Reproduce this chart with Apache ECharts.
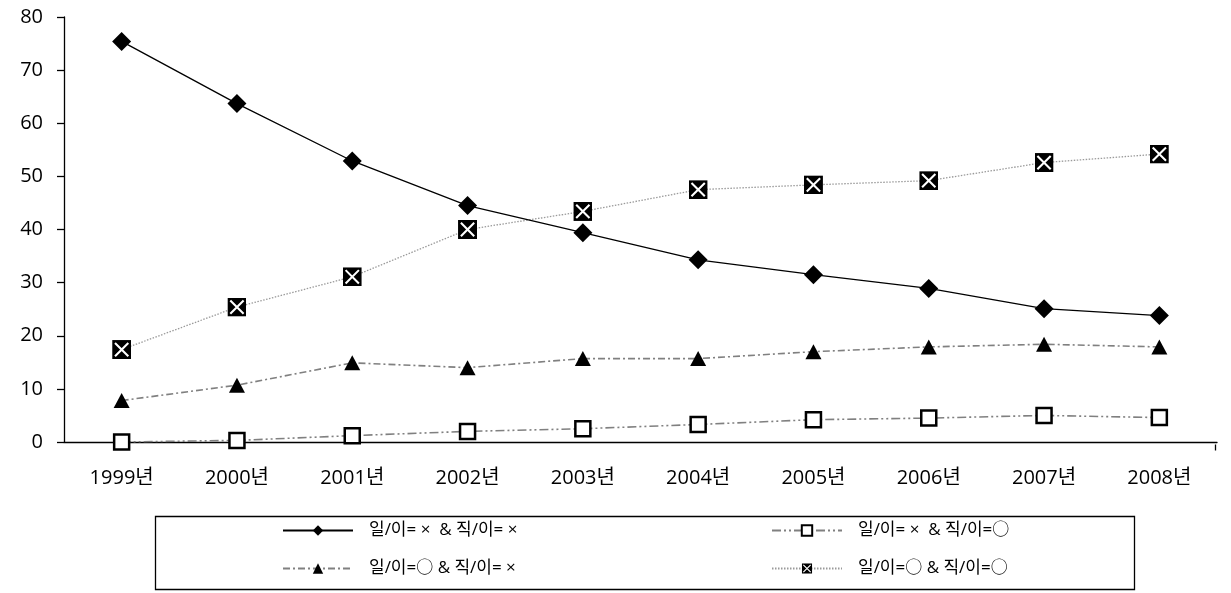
<!DOCTYPE html>
<html>
<head>
<meta charset="utf-8">
<script src="https://cdn.jsdelivr.net/npm/echarts@6/dist/echarts.min.js"></script>
<style>
html,body{margin:0;padding:0;background:#fff;}
#chart{width:1231px;height:593px;}
</style>
</head>
<body>
<div id="chart"></div>
<script>
const categories = ['1999년','2000년','2001년','2002년','2003년','2004년','2005년','2006년','2007년','2008년'];
const seriesNames = ['일/이= ×  & 직/이= ×','일/이= ×  & 직/이=○','일/이=○ & 직/이= ×','일/이=○ & 직/이=○'];
const noNo   = [75.4, 63.7, 52.9, 44.5, 39.4, 34.3, 31.5, 28.9, 25.1, 23.8];
const noYes  = [0.0, 0.3, 1.2, 2.0, 2.5, 3.3, 4.2, 4.5, 5.0, 4.6];
const yesNo  = [7.8, 10.7, 14.9, 14.0, 15.7, 15.7, 17.0, 17.9, 18.4, 17.9];
const yesYes = [17.4, 25.4, 31.1, 40.0, 43.4, 47.5, 48.4, 49.2, 52.6, 54.2];
const yTicks = {min: 0, max: 80, interval: 10};

const FONT = '"Open Sans", "Noto Sans CJK KR", sans-serif';
const xbox = 'image://data:image/svg+xml;charset=utf-8,' + encodeURIComponent(
  "<svg xmlns='http://www.w3.org/2000/svg' width='20' height='20' viewBox='0 0 20 20'>" +
  "<rect width='20' height='20' fill='black'/>" +
  "<path d='M3,3L17,17M17,3L3,17' stroke='white' stroke-width='2.2'/></svg>");

const chart = echarts.init(document.getElementById('chart'), null, {renderer: 'canvas'});

function legendAt(name, left, top) {
  return {
    data: [name], left: left, top: top, orient: 'horizontal',
    itemWidth: 70, itemHeight: 13, padding: 0,
    textStyle: {fontFamily: FONT, fontSize: 17, color: '#000', padding: [0, 0, 0, 11]},
    selectedMode: false
  };
}

chart.setOption({
  animation: false,
  backgroundColor: '#fff',
  grid: {left: 64, right: 14, top: 17, bottom: 151, containLabel: false},
  xAxis: {
    type: 'category', data: categories, boundaryGap: true,
    axisLine: {lineStyle: {color: '#000', width: 1.3}},
    axisTick: {alignWithLabel: true, length: 6, lineStyle: {color: '#000', width: 1.3}},
    axisLabel: {color: '#000', fontFamily: FONT, fontSize: 20, margin: 26},
    splitLine: {show: false}
  },
  yAxis: {
    type: 'value', min: yTicks.min, max: yTicks.max, interval: yTicks.interval,
    axisLine: {show: true, lineStyle: {color: '#000', width: 1.3}},
    axisTick: {show: true, length: 7, lineStyle: {color: '#000', width: 1.3}},
    axisLabel: {color: '#000', fontFamily: FONT, fontSize: 20, margin: 21},
    splitLine: {show: false}
  },
  legend: [
    legendAt(seriesNames[0], 282, 522),
    legendAt(seriesNames[1], 771, 522),
    legendAt(seriesNames[2], 282, 560),
    legendAt(seriesNames[3], 771, 560)
  ],
  graphic: [
    {type: 'rect', left: 153, top: 514, shape: {width: 979, height: 73},
     style: {fill: 'none', stroke: '#000', lineWidth: 1.3}, z: -1},
    {type: 'line', right: 13, top: 442, shape: {x1: 0, y1: 0, x2: 0, y2: 6},
     style: {stroke: '#000', lineWidth: 1.3}}
  ],
  series: [
    {name: seriesNames[0], type: 'line', data: noNo, z: 4,
     symbol: 'diamond', symbolSize: 19,
     itemStyle: {color: '#000'},
     lineStyle: {color: '#000', width: 1.3, type: 'solid'}},
    {name: seriesNames[1], type: 'line', data: noYes, z: 3,
     symbol: 'rect', symbolSize: 15,
     itemStyle: {color: '#fff', borderColor: '#000', borderWidth: 2.5},
     lineStyle: {color: '#808080', width: 1.6, type: [9, 3, 2, 3, 2, 3]}},
    {name: seriesNames[2], type: 'line', data: yesNo, z: 3,
     symbol: 'triangle', symbolSize: [16, 15],
     itemStyle: {color: '#000'},
     lineStyle: {color: '#808080', width: 1.6, type: [7, 3, 2, 3]}},
    {name: seriesNames[3], type: 'line', data: yesYes, z: 3,
     symbol: xbox, symbolSize: 19,
     itemStyle: {color: '#000'},
     lineStyle: {color: '#9a9a9a', width: 1.3, type: [1.5, 1.5]}}
  ]
});
</script>
</body>
</html>
